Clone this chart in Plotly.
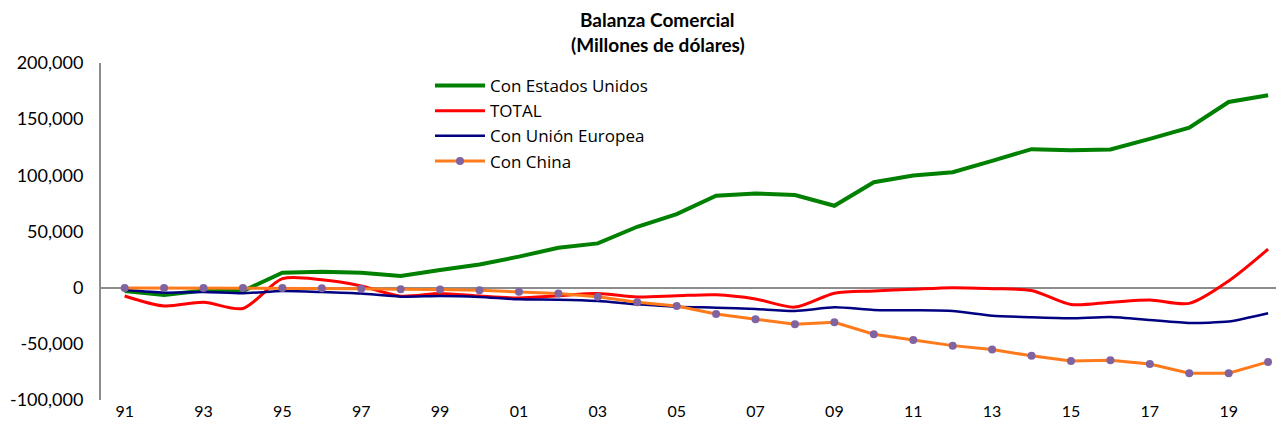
import plotly.graph_objects as go

years = list(range(1991, 2021))
x_tick_years = list(range(1991, 2021, 2))
x_tick_labels = [f"{y % 100:02d}" for y in x_tick_years]

y_tick_vals = [-100000, -50000, 0, 50000, 100000, 150000, 200000]
y_tick_labels = ["-100,000", "-50,000", "0", "50,000", "100,000", "150,000", "200,000"]

estados_unidos = [-3000, -6500, -2500, -3000, 13300, 14200, 13300, 10400, 15700, 20700,
                  27600, 35600, 39400, 54200, 65500, 81800, 83900, 82400, 72900, 93900,
                  99800, 102800, 112900, 123300, 122400, 123000, 132400, 142500, 165300, 171300]
total = [-7400, -16300, -12900, -18500, 8000, 7000, 1500, -7600, -5200, -7500,
         -9200, -7200, -5300, -8300, -7200, -6300, -10000, -17300, -4900, -3000,
         -1400, 0, -900, -2500, -15000, -13000, -11000, -14000, 6000, 34300]
union_europea = [-2100, -4400, -3900, -5000, -3000, -3900, -5300, -8000, -7400, -8300,
                 -10400, -10700, -11900, -14800, -17000, -17800, -19000, -20700, -17500, -19800,
                 -20100, -20700, -24900, -26400, -27300, -26100, -28700, -31400, -30200, -22800]
china = [-200, -300, -300, -400, -400, -600, -900, -1500, -1600, -2400,
         -3600, -5300, -8000, -13000, -16300, -23400, -28100, -32600, -30800, -41500,
         -46500, -51600, -55100, -60700, -65200, -64600, -67900, -76200, -76200, -66100]

title_line1 = "Balanza Comercial"
title_line2 = "(Millones de dólares)"

font_family = "Lato, 'Open Sans', sans-serif"

fig = go.Figure()
fig.add_trace(go.Scatter(x=years, y=estados_unidos, name="Con Estados Unidos", mode="lines",
                         line=dict(color="#008000", width=4)))
fig.add_trace(go.Scatter(x=years, y=total, name="TOTAL", mode="lines",
                         line=dict(color="#FF0000", width=3, shape="spline", smoothing=0.8)))
fig.add_trace(go.Scatter(x=years, y=union_europea, name="Con Unión Europea", mode="lines",
                         line=dict(color="#000080", width=2.5, shape="spline", smoothing=0.6)))
fig.add_trace(go.Scatter(x=years, y=china, name="Con China", mode="lines+markers",
                         line=dict(color="#FF7A1A", width=3),
                         marker=dict(color="#8064A2", size=8)))

# page body has an 8px margin: figure is drawn at (8, 8)
fig.update_layout(
    width=1278, height=424,
    margin=dict(l=93, r=10, t=55, b=32, autoexpand=False),
    paper_bgcolor="white", plot_bgcolor="white",
    font=dict(family=font_family, color="#000000"),
    legend=dict(x=0.28, y=0.985, xanchor="left", yanchor="top",
                bgcolor="rgba(0,0,0,0)",
                font=dict(size=17, family="'Open Sans', Lato, sans-serif"),
                tracegroupgap=0, itemwidth=50),
    showlegend=True,
)
fig.add_annotation(text=f"<b>{title_line1}</b>", xref="paper", yref="paper",
                   x=0.474, y=1 + (55 - 12) / 337, xanchor="center", yanchor="middle",
                   showarrow=False, font=dict(size=19, family=font_family))
fig.add_annotation(text=f"<b>{title_line2}</b>", xref="paper", yref="paper",
                   x=0.474, y=1 + (55 - 37) / 337, xanchor="center", yanchor="middle",
                   showarrow=False, font=dict(size=19, family=font_family))
fig.update_xaxes(range=[1990.4, 2020.2], tickvals=x_tick_years, ticktext=x_tick_labels,
                 showgrid=False, zeroline=False, showline=False, ticks="",
                 tickfont=dict(size=16), automargin=False)
fig.update_yaxes(range=[-100000, 200000], tickvals=y_tick_vals, ticktext=y_tick_labels,
                 showgrid=False, zeroline=True, zerolinecolor="#8C8C8C", zerolinewidth=2,
                 showline=True, linecolor="#8C8C8C", linewidth=2, ticks="",
                 tickfont=dict(size=18), ticklabelstandoff=12, automargin=False)

fig.write_html("out.html")
